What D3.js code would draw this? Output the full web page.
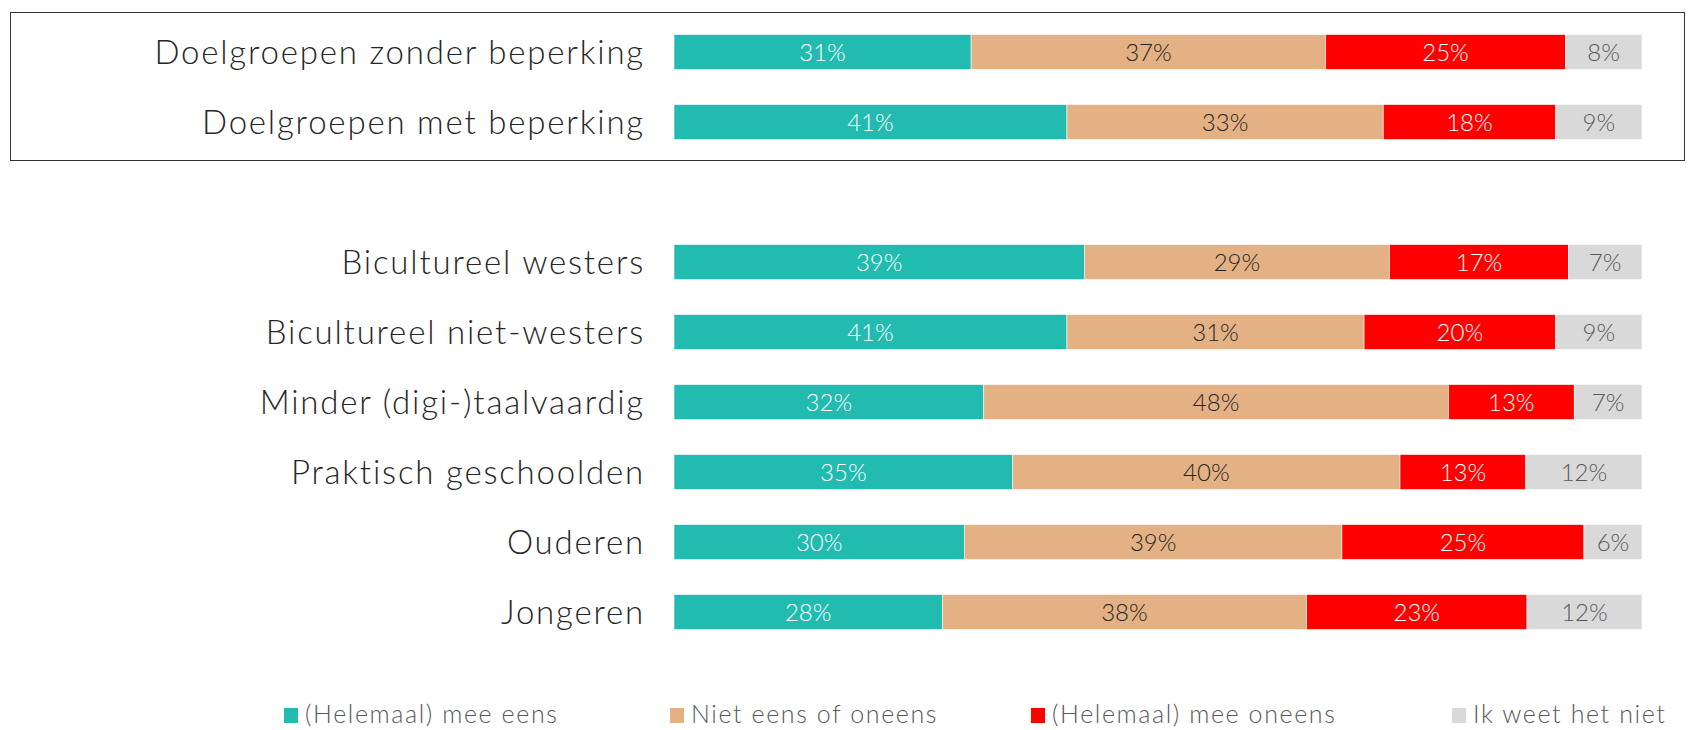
<!DOCTYPE html>
<html>
<head>
<meta charset="utf-8">
<script src="https://cdn.jsdelivr.net/npm/d3@7"></script>
<style>
  body { margin: 0; background: #fff; }
  svg { display: block; }
  text { font-family: Lato, "Open Sans", sans-serif; font-weight: 300; }
</style>
</head>
<body>
<div id="chart"></div>
<script>
// categories, top two sit inside the framed box
const boxedCategories = ["Doelgroepen zonder beperking", "Doelgroepen met beperking"];
const otherCategories = ["Bicultureel westers", "Bicultureel niet-westers", "Minder (digi-)taalvaardig",
  "Praktisch geschoolden", "Ouderen", "Jongeren"];
const categories = boxedCategories.concat(otherCategories);

// series values (percentages as printed)
const eens     = [31, 41, 39, 41, 32, 35, 30, 28];
const neutraal = [37, 33, 29, 31, 48, 40, 39, 38];
const oneens   = [25, 18, 17, 20, 13, 13, 25, 23];
const weetNiet = [8, 9, 7, 9, 7, 12, 6, 12];

const seriesNames = ["(Helemaal) mee eens", "Niet eens of oneens", "(Helemaal) mee oneens", "Ik weet het niet"];
const seriesKeys = ["eens", "neutraal", "oneens", "weetNiet"];

const width = 1689, height = 730;

const color = d3.scaleOrdinal()
  .domain(seriesKeys)
  .range(["#21BBB0", "#E3B183", "#FF0000", "#D9D9D9"]);
const labelColor = d3.scaleOrdinal()
  .domain(seriesKeys)
  .range(["#FFFFFF", "#262626", "#FFFFFF", "#595959"]);

let rows = categories.map((c, i) => ({
  category: c, eens: eens[i], neutraal: neutraal[i], oneens: oneens[i], weetNiet: weetNiet[i]
}));

let stack = d3.stack().keys(seriesKeys).offset(d3.stackOffsetExpand);
let series = stack(rows);

// one empty slot between the two groups
let yDomain = boxedCategories.concat([""], otherCategories);

let x = d3.scaleLinear().domain([0, 1]).range([674, 1642]);
let y = d3.scaleBand().domain(yDomain).range([17, 647]).paddingInner(0.5).paddingOuter(0.25);

let svg = d3.select("#chart").append("svg")
  .attr("width", width).attr("height", height);

// frame round the first group
svg.append("rect")
  .attr("x", 10.5).attr("y", 12.5)
  .attr("width", 1674).attr("height", 148)
  .attr("fill", "none")
  .attr("stroke", "#333")
  .attr("stroke-width", 1);

let groups = svg.append("g").selectAll("g")
  .data(series)
  .enter().append("g")
  .attr("fill", d => color(d.key));

groups.selectAll("rect")
  .data(d => d.map(v => ({key: d.key, v: v})))
  .enter().append("rect")
  .attr("x", d => x(d.v[0]))
  .attr("y", d => y(d.v.data.category))
  .attr("width", d => x(d.v[1]) - x(d.v[0]))
  .attr("height", y.bandwidth())
  .attr("stroke", "#fff")
  .attr("stroke-width", 0.6);

groups.selectAll("text")
  .data(d => d.map(v => ({key: d.key, v: v})))
  .enter().append("text")
  .attr("x", d => (x(d.v[0]) + x(d.v[1])) / 2)
  .attr("y", d => y(d.v.data.category) + y.bandwidth() / 2)
  .attr("dy", "0.36em")
  .attr("text-anchor", "middle")
  .attr("font-size", 24)
  .attr("fill", d => labelColor(d.key))
  .text(d => d.v.data[d.key] + "%");

// category labels
let yAxis = d3.axisLeft(y).tickSize(0).tickPadding(0);
let axisG = svg.append("g")
  .attr("transform", "translate(645,0)")
  .call(yAxis);
axisG.select(".domain").remove();
axisG.selectAll("text")
  .attr("font-size", 33)
  .attr("font-family", null)
  .attr("letter-spacing", "1.8px")
  .attr("fill", "#262626")
  .attr("dy", "0.35em");

// legend
const legendX = [284, 670, 1031, 1452];
let legend = svg.append("g").selectAll("g")
  .data(seriesKeys)
  .enter().append("g")
  .attr("transform", (d, i) => "translate(" + legendX[i] + ",714)");

legend.append("rect")
  .attr("x", 0).attr("y", -6)
  .attr("width", 14).attr("height", 15)
  .attr("fill", d => color(d));

legend.append("text")
  .attr("x", 21)
  .attr("dy", "0.35em")
  .attr("font-size", 25)
  .attr("letter-spacing", "1.6px")
  .attr("fill", "#595959")
  .text((d, i) => seriesNames[i]);
</script>
</body>
</html>
